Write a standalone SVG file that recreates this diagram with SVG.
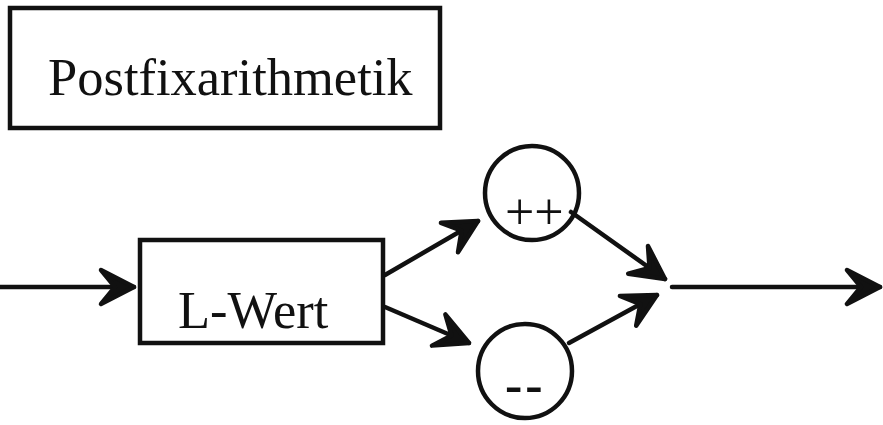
<svg xmlns="http://www.w3.org/2000/svg" width="883" height="425" viewBox="0 0 883 425">
<style>
.box{fill:#fff;stroke:#111;stroke-width:4.5}
.lbl{font-family:"Liberation Serif","Times New Roman",serif;font-size:52.5px;fill:#111}
.op{font-family:"Liberation Serif","Times New Roman",serif;font-size:52px;fill:#111}
.ln{fill:none;stroke:#111;stroke-width:4.5;stroke-linecap:round}
</style>
<defs>
<marker id="ah" markerUnits="userSpaceOnUse" markerWidth="50" markerHeight="50" viewBox="-40 -25 50 50" refX="0" refY="0" orient="auto">
<polygon points="0,0 -33,-17 -19,0 -33,17" fill="#111" stroke="#111" stroke-width="4.5" stroke-linejoin="round"/>
</marker>
</defs>
<g id="title">
<rect class="box" x="10" y="8" width="430" height="120"/>
<text class="lbl" x="48" y="95">Postfixarithmetik</text>
</g>
<g id="lwert">
<rect class="box" x="140" y="240" width="243" height="103"/>
<text class="lbl" x="178" y="328">L-Wert</text>
</g>
<g id="inc">
<circle class="box" cx="532" cy="193" r="47"/>
<text class="op" x="505" y="229">++</text>
</g>
<g id="dec">
<circle class="box" cx="525" cy="371" r="47"/>
<text class="op" x="505" y="402" font-weight="bold" letter-spacing="3">--</text>
</g>
<g id="connectors">
<line class="ln" x1="0" y1="287" x2="134" y2="287" marker-end="url(#ah)"/>
<line class="ln" x1="385" y1="275" x2="478" y2="221" marker-end="url(#ah)"/>
<line class="ln" x1="385" y1="307" x2="469" y2="343" marker-end="url(#ah)"/>
<line class="ln" x1="571" y1="212" x2="665" y2="279" marker-end="url(#ah)"/>
<line class="ln" x1="569" y1="343" x2="657" y2="295" marker-end="url(#ah)"/>
<line class="ln" x1="672" y1="287" x2="880" y2="287" marker-end="url(#ah)"/>
</g>
</svg>
